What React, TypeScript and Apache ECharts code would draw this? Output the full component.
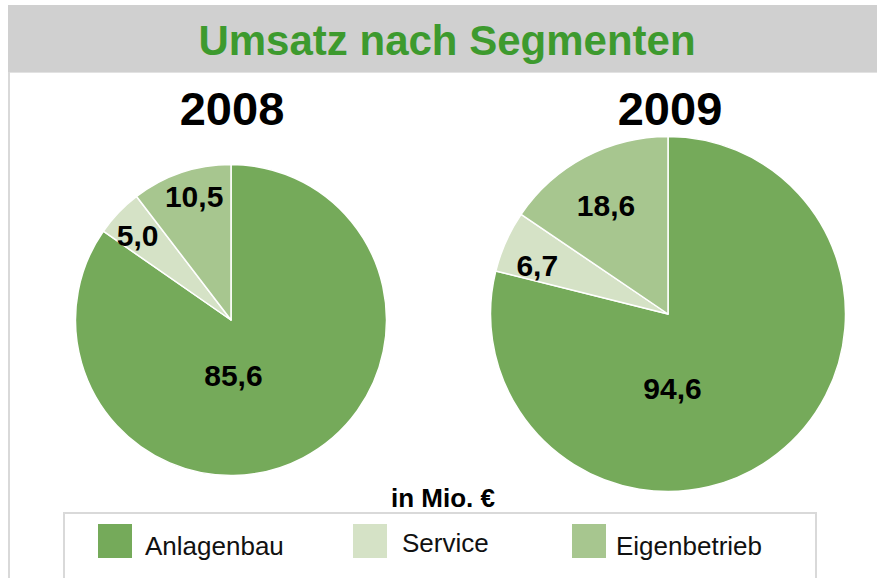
import React, { useEffect, useRef } from "react";
import * as echarts from "echarts";

const categories = ["Anlagenbau", "Service", "Eigenbetrieb"];
const values2008 = [85.6, 5.0, 10.5];
const values2009 = [94.6, 6.7, 18.6];
const years = ["2008", "2009"];
const chartTitle = "Umsatz nach Segmenten";
const unitLabel = "in Mio. €";

const sliceColors = ["#75aa5a", "#d5e2c6", "#a7c68f"];
const labelOffsets2008 = [[-35, -16], [-35, -29], [-11, -47]];
const labelOffsets2009 = [[-52, 2], [-47, -11], [-19, -27]];

const FONT = "'Liberation Sans', Arial, Helvetica, sans-serif";

const fmt = (v: number) => v.toFixed(1).replace(".", ",");

function buildPie(values: number[], offsets: number[][], center: number[], radius: number) {
  return {
    type: "pie",
    center,
    radius,
    startAngle: 90,
    clockwise: true,
    avoidLabelOverlap: false,
    silent: true,
    emphasis: { disabled: true },
    labelLine: { show: false },
    itemStyle: { borderColor: "#ffffff", borderWidth: 1.5 },
    label: {
      show: true,
      position: "inside",
      formatter: (p: any) => fmt(p.value),
      fontFamily: FONT,
      fontWeight: "bold",
      fontSize: 30,
      color: "#000000",
    },
    data: categories.map((name, i) => ({
      name,
      value: values[i],
      itemStyle: { color: sliceColors[i] },
      label: { offset: offsets[i] },
    })),
  };
}

function legendFor(name: string, left: number, top: number, padLeft: number, padTop: number) {
  return {
    data: [name],
    left,
    top,
    padding: 0,
    itemWidth: 34,
    itemHeight: 34,
    icon: "rect",
    selectedMode: false,
    itemStyle: { borderWidth: 0 },
    formatter: "{t|{name}}",
    textStyle: {
      fontFamily: FONT,
      fontSize: 26,
      color: "#111111",
      rich: {
        t: {
          fontFamily: FONT,
          fontSize: 26,
          color: "#111111",
          padding: [padTop, 0, 0, padLeft],
        },
      },
    },
  };
}

export default function App() {
  const ref = useRef<HTMLDivElement>(null);

  useEffect(() => {
    document.body.style.margin = "0";
    if (!ref.current) return;
    const chart = echarts.init(ref.current, null, { renderer: "svg" });
    chart.setOption({
      animation: false,
      backgroundColor: "#ffffff",
      color: sliceColors,
      legend: [
        legendFor(categories[0], 98, 524, 8, 9),
        legendFor(categories[1], 353, 524, 10, 4),
        legendFor(categories[2], 572, 524, 5, 9),
      ],
      graphic: [
        { type: "rect", shape: { x: 8, y: 5, width: 869, height: 67 }, style: { fill: "#d0d0d0" } },
        { type: "line", shape: { x1: 8, y1: 72.5, x2: 877, y2: 72.5 }, style: { stroke: "#e2e2e2", lineWidth: 1 } },
        { type: "line", shape: { x1: 9, y1: 72, x2: 9, y2: 578 }, style: { stroke: "#d9d9d9", lineWidth: 2 } },
        {
          type: "rect",
          shape: { x: 64, y: 513, width: 752, height: 80 },
          style: { fill: "none", stroke: "#d9d9d9", lineWidth: 2 },
        },
        {
          type: "text",
          x: 447,
          y: 40,
          style: {
            text: chartTitle,
            fontFamily: FONT,
            fontWeight: "bold",
            fontSize: 42,
            fill: "#3d9a2e",
            align: "center",
            verticalAlign: "middle",
          },
        },
        {
          type: "text",
          x: 232,
          y: 108,
          style: {
            text: years[0],
            fontFamily: FONT,
            fontWeight: "bold",
            fontSize: 47,
            fill: "#000000",
            align: "center",
            verticalAlign: "middle",
          },
        },
        {
          type: "text",
          x: 670,
          y: 108,
          style: {
            text: years[1],
            fontFamily: FONT,
            fontWeight: "bold",
            fontSize: 47,
            fill: "#000000",
            align: "center",
            verticalAlign: "middle",
          },
        },
        {
          type: "text",
          x: 443,
          y: 498,
          style: {
            text: unitLabel,
            fontFamily: FONT,
            fontWeight: "bold",
            fontSize: 26,
            fill: "#000000",
            align: "center",
            verticalAlign: "middle",
          },
        },
      ],
      series: [
        buildPie(values2008, labelOffsets2008, [231, 320], 155.5),
        buildPie(values2009, labelOffsets2009, [668, 314], 177.5),
      ],
    });
    return () => chart.dispose();
  }, []);

  return <div ref={ref} style={{ width: 877, height: 578 }} />;
}
